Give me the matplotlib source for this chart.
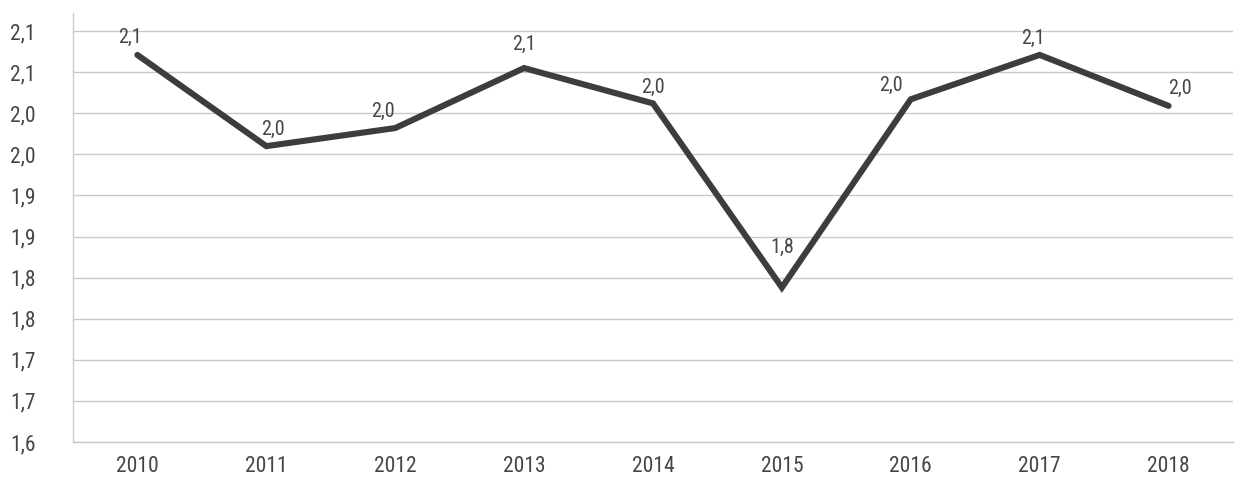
import matplotlib
matplotlib.use("Agg")
import matplotlib.pyplot as plt
from matplotlib import font_manager
from matplotlib.ticker import FixedLocator

# ---- data ----
years = ["2010", "2011", "2012", "2013", "2014", "2015", "2016", "2017", "2018"]
values = [2.071, 1.960, 1.982, 2.055, 2.012, 1.788, 2.017, 2.071, 2.009]
y_ticks = [1.60, 1.65, 1.70, 1.75, 1.80, 1.85, 1.90, 1.95, 2.00, 2.05, 2.10]
y_tick_labels = ["1,6", "1,7", "1,7", "1,8", "1,8", "1,9", "1,9", "2,0", "2,0", "2,1", "2,1"]

# pick a condensed font if one is installed
names = {f.name for f in font_manager.fontManager.ttflist}
stretches = {(f.name, f.stretch) for f in font_manager.fontManager.ttflist}
family = "DejaVu Sans"
stretch = "normal"
for cand in ["Liberation Sans Narrow", "Roboto Condensed", "Open Sans Condensed",
             "DejaVu Sans Condensed"]:
    if cand in names:
        family = cand
        break
else:
    for (n, s) in stretches:
        if n == "DejaVu Sans" and s in ("condensed", "semi-condensed", 87, 75):
            stretch = s
            break
    for (n, s) in stretches:
        if n == "Roboto" and s in ("condensed", 75):
            family, stretch = "Roboto", s
            break

plt.rcParams['font.family'] = [family, 'DejaVu Sans']
plt.rcParams['font.stretch'] = stretch

fig = plt.figure(figsize=(12.36, 4.78), dpi=100)
ax = fig.add_axes([0.059, 0.0753, 0.9386, 0.8975])

x = list(range(len(years)))
ax.plot(x, values, color="#3d3d3f", lw=4.4, solid_joinstyle="miter",
        solid_capstyle="round", zorder=3)

ax.set_xlim(-0.5, len(years) - 0.5)
ax.set_ylim(1.60, 2.122)
ax.yaxis.set_major_locator(FixedLocator(y_ticks))
ax.set_yticklabels(y_tick_labels)
ax.set_xticks(x)
ax.set_xticklabels(years)

ax.grid(axis="y", color="#c9c9c9", lw=1.0)
ax.set_axisbelow(True)
for s in ["top", "right"]:
    ax.spines[s].set_visible(False)
ax.spines["left"].set_color("#cccccc")
ax.spines["left"].set_linewidth(1.0)
ax.spines["bottom"].set_color("#c9c9c9")
ax.spines["bottom"].set_linewidth(1.0)

ax.tick_params(axis="y", length=0, pad=27, labelsize=15.5, labelcolor="#454545")
ax.tick_params(axis="x", length=0, pad=10, labelsize=15.5, labelcolor="#454545")

# value labels (offsets in points: dx, dy)
offsets = [(-5, 6), (5, 5), (-9, 5), (0, 10), (0, 5), (0, 22), (-14, 3), (-5, 5), (8, 6)]
for xi, v, (dx, dy) in zip(x, values, offsets):
    ax.annotate(f"{v:.1f}".replace(".", ","), (xi, v), xytext=(dx, dy),
                textcoords="offset points", ha="center", va="bottom",
                fontsize=14.5, color="#454545", zorder=4)

fig.savefig("out.png", dpi=100)
